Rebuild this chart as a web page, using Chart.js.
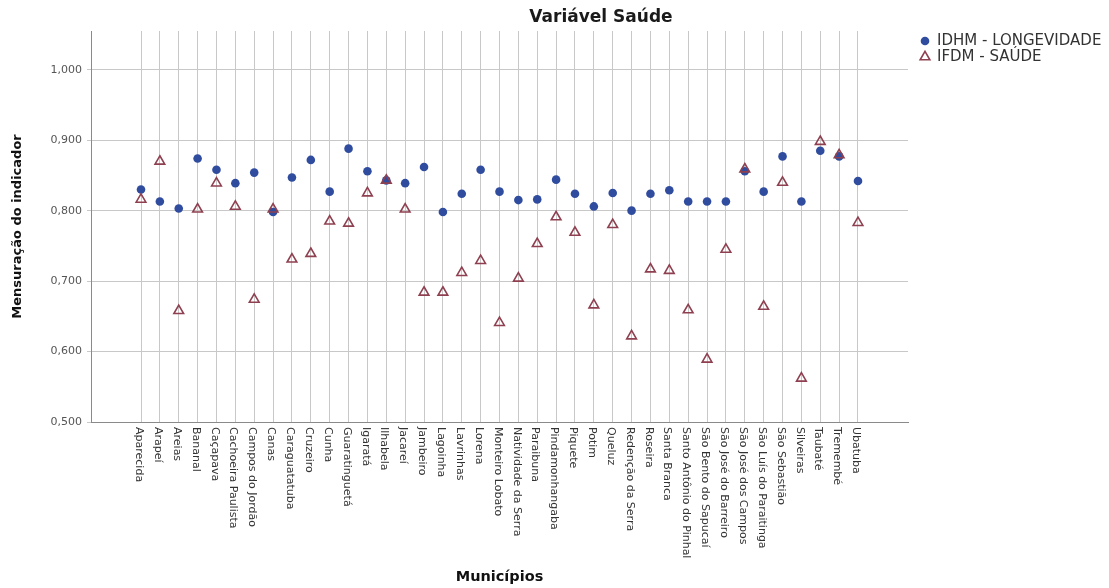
<!DOCTYPE html>
<html lang="pt-BR">
<head>
<meta charset="utf-8">
<title>Variável Saúde</title>
<script src="https://cdn.jsdelivr.net/npm/chart.js@4/dist/chart.umd.min.js"></script>
<style>
  html, body { margin: 0; padding: 0; background: #ffffff; }
  canvas { display: block; }
</style>
</head>
<body>
<canvas id="grafico" width="1109" height="588"></canvas>
<script>
// Municípios da região (eixo X)
const municipios = [
  'Aparecida', 'Arapeí', 'Areias', 'Bananal', 'Caçapava', 'Cachoeira Paulista',
  'Campos do Jordão', 'Canas', 'Caraguatatuba', 'Cruzeiro', 'Cunha', 'Guaratinguetá',
  'Igaratá', 'Ilhabela', 'Jacareí', 'Jambeiro', 'Lagoinha', 'Lavrinhas', 'Lorena',
  'Monteiro Lobato', 'Natividade da Serra', 'Paraibuna', 'Pindamonhangaba', 'Piquete',
  'Potim', 'Queluz', 'Redenção da Serra', 'Roseira', 'Santa Branca',
  'Santo Antônio do Pinhal', 'São Bento do Sapucaí', 'São José do Barreiro',
  'São José dos Campos', 'São Luís do Paraitinga', 'São Sebastião', 'Silveiras',
  'Taubaté', 'Tremembé', 'Ubatuba'
];

// IDHM - Longevidade
const idhmLongevidade = [
  0.830, 0.813, 0.803, 0.874, 0.858, 0.839, 0.854, 0.798, 0.847, 0.872,
  0.827, 0.888, 0.856, 0.843, 0.839, 0.862, 0.798, 0.824, 0.858, 0.827,
  0.815, 0.816, 0.844, 0.824, 0.806, 0.825, 0.800, 0.824, 0.829, 0.813,
  0.813, 0.813, 0.856, 0.827, 0.877, 0.813, 0.885, 0.877, 0.842
];

// IFDM - Saúde
const ifdmSaude = [
  0.816, 0.870, 0.658, 0.802, 0.839, 0.806, 0.674, 0.802, 0.731, 0.739,
  0.785, 0.782, 0.825, 0.843, 0.802, 0.684, 0.684, 0.712, 0.729, 0.641,
  0.704, 0.753, 0.791, 0.769, 0.666, 0.780, 0.622, 0.717, 0.715, 0.659,
  0.589, 0.745, 0.859, 0.664, 0.840, 0.562, 0.898, 0.879, 0.783
];

// Escala do eixo Y
const yMin = 0.5;
const yMax = 1.055;
const yStep = 0.1;

const corIdhm = '#2f4c9e';
const corIfdm = '#8e4050';
const corTexto = '#333333';
const corGrade = '#c8c8c8';
const corEixo = '#8a8a8a';

Chart.defaults.font.family = '"DejaVu Sans", "Liberation Sans", Arial, sans-serif';

const toPoints = arr => arr.map((v, i) => ({ x: i, y: v }));
const formatBR = v => v.toFixed(3).replace('.', ',');

// Rótulos verticais das categorias, título e legenda
const decoracoes = {
  id: 'decoracoes',
  afterDraw(chart) {
    const ctx = chart.ctx;
    const xs = chart.scales.x;
    const area = chart.chartArea;

    // rótulos das categorias, lidos de cima para baixo
    ctx.save();
    ctx.font = '11px "DejaVu Sans", Arial, sans-serif';
    ctx.fillStyle = corTexto;
    ctx.textAlign = 'left';
    ctx.textBaseline = 'middle';
    municipios.forEach((nome, i) => {
      const px = xs.getPixelForValue(i) - 2;
      ctx.save();
      ctx.translate(px, area.bottom + 5);
      ctx.rotate(Math.PI / 2);
      ctx.fillText(nome, 0, 0);
      ctx.restore();
    });
    ctx.restore();

    // título
    ctx.save();
    ctx.font = 'bold 17px "DejaVu Sans", Arial, sans-serif';
    ctx.fillStyle = '#1a1a1a';
    ctx.textAlign = 'center';
    ctx.textBaseline = 'middle';
    ctx.fillText('Variável Saúde', 601, 18);
    ctx.restore();

    // legenda
    const itens = chart.data.datasets.slice().sort((a, b) => b.order - a.order);
    ctx.save();
    ctx.font = '15px "DejaVu Sans", Arial, sans-serif';
    ctx.textAlign = 'left';
    ctx.textBaseline = 'middle';
    itens.forEach((ds, k) => {
      const cx = 925;
      const cy = 41 + k * 16;
      ctx.beginPath();
      if (ds.pointStyle === 'triangle') {
        const r = ds.pointRadius;
        ctx.moveTo(cx, cy - r);
        ctx.lineTo(cx + r * Math.sin(2 * Math.PI / 3), cy + r / 2);
        ctx.lineTo(cx - r * Math.sin(2 * Math.PI / 3), cy + r / 2);
        ctx.closePath();
        ctx.lineWidth = ds.pointBorderWidth;
        ctx.strokeStyle = ds.pointBorderColor;
        ctx.stroke();
      } else {
        ctx.arc(cx, cy, ds.pointRadius, 0, Math.PI * 2);
        ctx.fillStyle = ds.pointBackgroundColor;
        ctx.fill();
      }
      ctx.fillStyle = corTexto;
      ctx.fillText(ds.label, 937, cy);
    });
    ctx.restore();
  }
};

new Chart(document.getElementById('grafico'), {
  type: 'scatter',
  data: {
    datasets: [
      {
        label: 'IDHM - LONGEVIDADE',
        data: toPoints(idhmLongevidade),
        pointStyle: 'circle',
        pointRadius: 4.3,
        pointBackgroundColor: corIdhm,
        pointBorderColor: corIdhm,
        pointBorderWidth: 0,
        order: 1
      },
      {
        label: 'IFDM - SAÚDE',
        data: toPoints(ifdmSaude),
        pointStyle: 'triangle',
        pointRadius: 5.6,
        pointBackgroundColor: 'rgba(255,255,255,0)',
        pointBorderColor: corIfdm,
        pointBorderWidth: 1.6,
        order: 0
      }
    ]
  },
  options: {
    responsive: false,
    animation: false,
    layout: { padding: { top: 31, right: 201, bottom: 0, left: 0 } },
    plugins: {
      legend: { display: false },
      title: { display: false },
      tooltip: { enabled: false }
    },
    scales: {
      x: {
        type: 'linear',
        min: -2.65,
        max: municipios.length - 1 + 2.65,
        afterBuildTicks: s => { s.ticks = municipios.map((_, i) => ({ value: i })); },
        afterFit: s => { s.height = 166; },
        grid: { color: corGrade, lineWidth: 1, drawTicks: false },
        border: { color: corEixo, width: 1 },
        ticks: { display: false },
        title: {
          display: true,
          text: 'Municípios',
          color: '#111111',
          font: { weight: 'bold', size: 14.5 },
          padding: { top: 0, bottom: 2 }
        }
      },
      y: {
        type: 'linear',
        min: yMin,
        max: yMax,
        afterFit: s => { s.width = 91; },
        grid: { color: corGrade, lineWidth: 1, tickLength: 4 },
        border: { color: corEixo, width: 1 },
        ticks: {
          stepSize: yStep,
          includeBounds: false,
          color: '#555555',
          font: { size: 11 },
          padding: 5,
          callback: v => formatBR(v)
        },
        title: {
          display: true,
          text: 'Mensuração do indicador',
          color: '#111111',
          font: { weight: 'bold', size: 13 },
          padding: { top: 10, bottom: 0 }
        }
      }
    }
  },
  plugins: [decoracoes]
});
</script>
</body>
</html>
